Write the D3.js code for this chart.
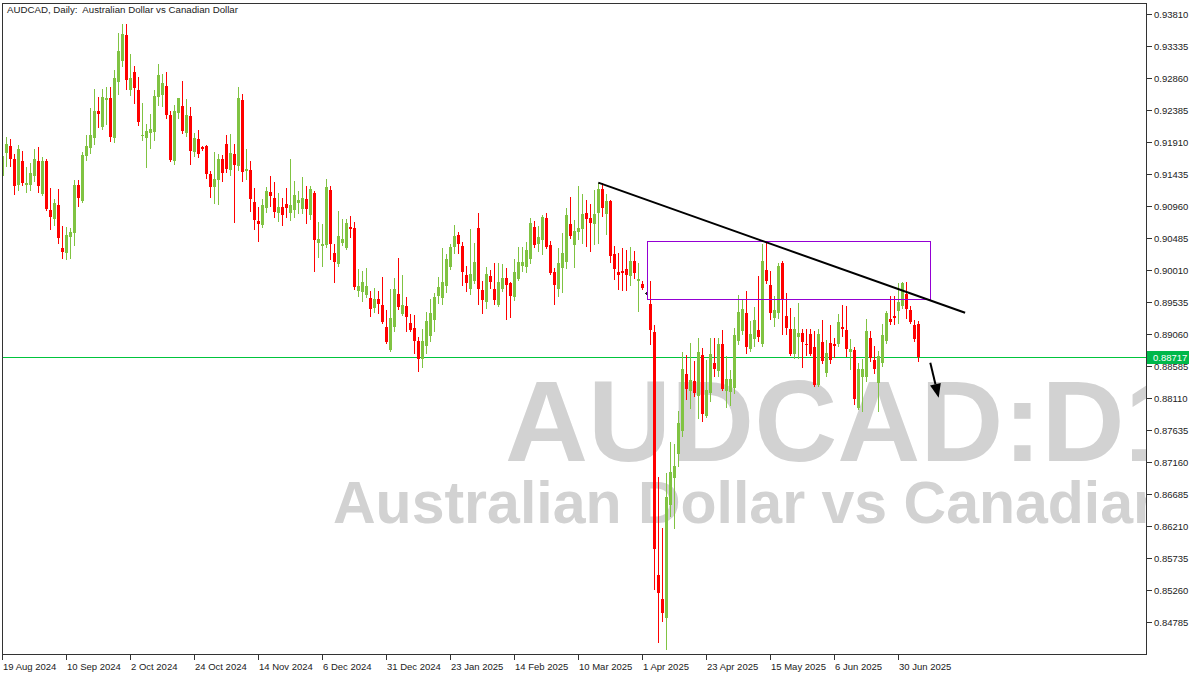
<!DOCTYPE html>
<html><head><meta charset="utf-8">
<script src="https://cdn.jsdelivr.net/npm/d3@7"></script>
<style>body{margin:0;background:#fff}svg{display:block}</style>
</head><body><svg id="c" width="1200" height="675"></svg>
<script>
const opens=[0.91406,0.91747,0.91851,0.91658,0.91272,0.91628,0.91272,0.91272,0.91406,0.91628,
0.91138,0.91628,0.90900,0.90767,0.90975,0.90337,0.90262,0.90500,0.90559,0.91272,
0.91034,0.91703,0.91821,0.91969,0.92370,0.92133,0.92533,0.92563,0.91969,0.92801,
0.93112,0.93484,0.92682,0.92949,0.92682,0.91999,0.91969,0.92043,0.92058,0.92578,
0.92608,0.92742,0.92311,0.91628,0.92340,0.92445,0.92043,0.92296,0.91762,0.91954,
0.91836,0.91851,0.91435,0.91242,0.91346,0.91658,0.91880,0.91494,0.91732,0.91554,
0.92533,0.91480,0.91494,0.91019,0.90737,0.90678,0.90930,0.91168,0.91079,0.90856,
0.90945,0.90989,0.90856,0.90900,0.91004,0.90915,0.91064,0.90826,0.91153,0.90411,
0.90366,0.90382,0.91197,0.90262,0.90099,0.90411,0.90337,0.90648,0.90633,0.89698,
0.89683,0.89639,0.89594,0.89446,0.89579,0.89490,0.89164,0.88823,0.89164,0.89653,
0.89357,0.89475,0.89223,0.89149,0.88956,0.88689,0.88882,0.89030,0.89268,0.89624,
0.89594,0.89773,0.90055,0.90352,0.90530,0.90366,0.89936,0.89728,0.89847,0.90633,
0.89713,0.89535,0.89921,0.89728,0.89490,0.89728,0.89892,0.89817,0.89609,0.89877,
0.90070,0.90055,0.90173,0.90648,0.90396,0.90455,0.90782,0.90382,0.89980,0.89728,
0.90040,0.90129,0.90692,0.90382,0.90574,0.90618,0.90856,0.90782,0.90692,0.90856,
0.91212,0.90841,0.91034,0.90248,0.89980,0.89995,0.90025,0.89921,0.90144,0.89847,
0.89802,0.89668,0.89505,0.89090,0.85483,0.85127,0.84845,0.86522,0.86922,0.87279,
0.87620,0.88466,0.88214,0.88362,0.88140,0.88748,0.87843,0.88184,0.88629,0.88511,
0.88912,0.88214,0.88199,0.88258,0.88956,0.89105,0.89371,0.88837,0.88986,0.89119,
0.88912,0.90010,0.89788,0.89297,0.89371,0.90114,0.89327,0.89134,0.88763,0.89016,
0.89075,0.88912,0.89060,0.88867,0.88303,0.88941,0.88481,0.88926,0.88912,0.88912,
0.89164,0.89119,0.88793,0.88823,0.87962,0.88422,0.88422,0.88999,0.88674,0.88333,
0.88629,0.88956,0.89283,0.89327,0.89401,0.89475,0.89653,0.89416,0.89194,0.89208];
const highs=[0.91777,0.91984,0.91954,0.91732,0.91866,0.91777,0.91539,0.91598,0.91806,0.91836,
0.91688,0.91658,0.91227,0.91064,0.91212,0.90663,0.90648,0.90633,0.91346,0.91346,
0.91762,0.92014,0.92415,0.92697,0.92578,0.92697,0.92727,0.92727,0.92978,0.93528,
0.93661,0.93661,0.93216,0.93038,0.92875,0.92489,0.92177,0.92325,0.92682,0.93067,
0.92919,0.92949,0.92370,0.92460,0.92563,0.92816,0.92548,0.92430,0.92043,0.92088,
0.91851,0.91866,0.91480,0.91762,0.91732,0.91718,0.92014,0.92028,0.91880,0.92727,
0.92622,0.91806,0.91628,0.91227,0.90945,0.91064,0.91242,0.91406,0.91316,0.91153,
0.91079,0.91227,0.91658,0.91331,0.91183,0.91391,0.91257,0.91257,0.91183,0.90722,
0.90692,0.91361,0.91257,0.90396,0.90886,0.90767,0.90767,0.90812,0.90722,0.90025,
0.89995,0.90040,0.89698,0.89743,0.89698,0.89906,0.89416,0.89728,0.89892,0.90188,
0.89936,0.89609,0.89357,0.89342,0.89016,0.89134,0.89386,0.89579,0.89668,0.89906,
0.90337,0.90248,0.90396,0.90678,0.90574,0.90426,0.90070,0.90618,0.90411,0.90856,
0.89847,0.90055,0.90010,0.90114,0.90114,0.90099,0.90040,0.89832,0.90173,0.90352,
0.90352,0.90426,0.90782,0.90737,0.90663,0.90826,0.90856,0.90441,0.90040,0.90337,
0.90559,0.90930,0.91094,0.90752,0.91257,0.91138,0.91049,0.90989,0.91197,0.91301,
0.91301,0.91138,0.91049,0.90366,0.90262,0.90337,0.90307,0.90352,0.90292,0.90114,
0.89847,0.89683,0.89847,0.89194,0.86937,0.86181,0.86997,0.87457,0.87427,0.87917,
0.88793,0.88748,0.88926,0.88659,0.88999,0.88852,0.88674,0.88999,0.88999,0.88999,
0.89119,0.88733,0.88526,0.89149,0.89639,0.89579,0.89698,0.89253,0.89461,0.89921,
0.90396,0.90441,0.89995,0.89624,0.90114,0.90144,0.89668,0.89446,0.89312,0.89520,
0.89134,0.89134,0.89134,0.89105,0.89134,0.89268,0.88971,0.89194,0.88999,0.89357,
0.89490,0.89475,0.88986,0.88867,0.88629,0.88689,0.89283,0.89105,0.88882,0.88808,
0.89208,0.89401,0.89624,0.89624,0.89817,0.89832,0.89832,0.89475,0.89268,0.89253];
const lows=[0.91138,0.91554,0.91554,0.91138,0.91197,0.91272,0.91168,0.91197,0.91331,0.91168,
0.91124,0.90900,0.90618,0.90678,0.90411,0.90188,0.90173,0.90188,0.90382,0.90960,
0.91019,0.91643,0.91747,0.91880,0.92133,0.92103,0.92177,0.91925,0.91910,0.92622,
0.93038,0.92697,0.92608,0.92489,0.92163,0.91939,0.91539,0.91821,0.91939,0.92460,
0.92445,0.92266,0.91628,0.91583,0.92266,0.92043,0.91999,0.91583,0.91703,0.91688,
0.91791,0.91376,0.91094,0.91004,0.90989,0.91331,0.91465,0.91421,0.90722,0.91494,
0.91331,0.91361,0.90886,0.90618,0.90441,0.90648,0.90871,0.90960,0.90797,0.90737,
0.90678,0.90797,0.90752,0.90797,0.90856,0.90856,0.90707,0.90767,0.89995,0.90203,
0.90070,0.90352,0.90173,0.89832,0.90070,0.90382,0.90322,0.90500,0.89728,0.89624,
0.89550,0.89609,0.89327,0.89386,0.89371,0.89223,0.88926,0.88808,0.89105,0.89431,
0.89342,0.89105,0.89105,0.88778,0.88511,0.88570,0.88778,0.88956,0.89105,0.89520,
0.89505,0.89683,0.90025,0.90262,0.90262,0.89788,0.89698,0.89653,0.89817,0.89505,
0.89371,0.89446,0.89743,0.89505,0.89475,0.89698,0.89283,0.89312,0.89564,0.89862,
0.89995,0.89980,0.90114,0.90352,0.90292,0.90248,0.90337,0.89951,0.89505,0.89624,
0.89683,0.90040,0.90485,0.90055,0.90470,0.90411,0.90366,0.90292,0.90396,0.90411,
0.90812,0.90544,0.90129,0.89877,0.89728,0.89713,0.89713,0.89788,0.89892,0.89401,
0.89728,0.89653,0.88912,0.85275,0.84488,0.84800,0.84384,0.86359,0.86181,0.87101,
0.87546,0.88095,0.87962,0.88140,0.87813,0.87769,0.87828,0.88066,0.88436,0.88436,
0.88229,0.87977,0.88006,0.88184,0.88912,0.89060,0.88778,0.88808,0.88882,0.88956,
0.88882,0.89817,0.89283,0.89179,0.89297,0.89060,0.89060,0.88748,0.88704,0.88704,
0.88570,0.88748,0.88748,0.88288,0.88288,0.88629,0.88436,0.88629,0.88719,0.88882,
0.89030,0.88733,0.88540,0.88021,0.87947,0.87917,0.88362,0.88659,0.88481,0.87917,
0.88585,0.88926,0.89208,0.89208,0.89223,0.89446,0.89297,0.89223,0.88956,0.88659];
const closes=[0.91703,0.91880,0.91658,0.91257,0.91806,0.91301,0.91301,0.91450,0.91658,0.91257,
0.91628,0.90915,0.90797,0.91004,0.90485,0.90277,0.90530,0.90574,0.91272,0.91079,
0.91718,0.91851,0.92014,0.92370,0.92325,0.92578,0.92563,0.91984,0.92860,0.93261,
0.93513,0.92830,0.92860,0.92712,0.92207,0.92014,0.92073,0.92103,0.92593,0.92905,
0.92786,0.92311,0.91643,0.92370,0.92563,0.92073,0.92311,0.91777,0.91969,0.91732,
0.91806,0.91435,0.91242,0.91361,0.91658,0.91450,0.91509,0.91747,0.91569,0.92563,
0.91465,0.91509,0.91064,0.90752,0.90692,0.90975,0.91183,0.91108,0.90871,0.90945,
0.90826,0.90930,0.90975,0.91124,0.91049,0.91079,0.90915,0.91212,0.90455,0.90470,
0.90396,0.91242,0.90396,0.90129,0.90515,0.90470,0.90707,0.90618,0.89758,0.89773,
0.89832,0.89773,0.89431,0.89579,0.89505,0.89238,0.88941,0.89297,0.89728,0.89461,
0.89490,0.89312,0.89119,0.88956,0.88689,0.88956,0.89253,0.89371,0.89609,0.89758,
0.89832,0.90173,0.90352,0.90515,0.90396,0.89980,0.89817,0.89951,0.90129,0.89728,
0.89564,0.89951,0.89832,0.89564,0.89832,0.89892,0.89788,0.89624,0.89980,0.90129,
0.90129,0.90307,0.90707,0.90382,0.90500,0.90797,0.90352,0.89965,0.89788,0.90114,
0.90262,0.90826,0.90515,0.90589,0.90633,0.90841,0.90767,0.90707,0.90841,0.91212,
0.90930,0.91034,0.90218,0.90025,0.89936,0.89965,0.89936,0.90144,0.89965,0.89877,
0.89743,0.89668,0.89119,0.85869,0.85216,0.84919,0.86640,0.87012,0.87101,0.87739,
0.88540,0.88244,0.88377,0.88184,0.88793,0.87873,0.88229,0.88763,0.88540,0.88912,
0.88244,0.88392,0.88392,0.89045,0.89386,0.89431,0.88867,0.89060,0.89268,0.89016,
0.90144,0.89847,0.89371,0.89416,0.90070,0.89579,0.89149,0.88763,0.89134,0.89075,
0.88941,0.88897,0.88763,0.88303,0.89060,0.88659,0.88778,0.88674,0.88882,0.89238,
0.89134,0.88837,0.88837,0.88095,0.88540,0.88540,0.89105,0.88704,0.88540,0.88733,
0.89045,0.89371,0.89238,0.89297,0.89535,0.89817,0.89431,0.89238,0.88986,0.88717];
const dateLabels=["19 Aug 2024","10 Sep 2024","2 Oct 2024","24 Oct 2024","14 Nov 2024","6 Dec 2024","31 Dec 2024","23 Jan 2025","14 Feb 2025","10 Mar 2025","1 Apr 2025","23 Apr 2025","15 May 2025","6 Jun 2025","30 Jun 2025"];
const barsPerLabel=16;
const priceTicks=[0.93810,0.93335,0.92860,0.92385,0.91910,0.91435,0.90960,0.90485,0.90010,0.89535,0.89060,0.88585,0.88110,0.87635,0.87160,0.86685,0.86210,0.85735,0.85260,0.84785];
const lastPrice=0.88717;
const zoneBars=[161.2,232], zonePrices=[0.90441,0.89580];
const trendBars=[149,240.7], trendPrices=[0.91301,0.89371];
const arrowBars=[232,234.1], arrowPrices=[0.88630,0.88110];
const title="AUDCAD, Daily:  Australian Dollar vs Canadian Dollar";
const wmSymbol="AUDCAD:D1", wmName="Australian Dollar vs Canadian Dollar";

const svg=d3.select('#c');
const FONT='"Liberation Sans", Arial, sans-serif';
const x=d3.scaleLinear().domain([0,286]).range([2.3,1146.3]);
const y=d3.scaleLinear().domain([0.93810,0.84785]).range([13.5,622]);
const PL=2, PR=1146, PT=3, PB=654;

svg.append('rect').attr('width',1200).attr('height',675).attr('fill','#fff');
svg.append('defs').append('clipPath').attr('id','clip').append('rect')
  .attr('x',PL).attr('y',PT).attr('width',PR-PL).attr('height',PB-PT);
const g=svg.append('g').attr('clip-path','url(#clip)');

// watermark
g.append('text').attr('x',505).attr('y',461)
  .attr('font-family',FONT).attr('font-weight','bold').attr('font-size',115)
  .attr('fill','#d2d2d2').text(wmSymbol);
g.append('text').attr('x',333).attr('y',523)
  .attr('font-family',FONT).attr('font-weight','bold').attr('font-size',59)
  .attr('fill','#d2d2d2').text(wmName);

// price line
const lineGreen='#00c43c';
g.append('line').attr('x1',PL).attr('x2',PR)
  .attr('y1',Math.round(y(lastPrice))+0.5).attr('y2',Math.round(y(lastPrice))+0.5)
  .attr('stroke',lineGreen).attr('stroke-width',1).attr('shape-rendering','crispEdges');

// candles
const idx=d3.range(opens.length);
const up='#80c342', dn='#ff0000';
const col=i=>closes[i]>opens[i]?up:(closes[i]<opens[i]?dn:'#222');
const cg=g.append('g').attr('shape-rendering','crispEdges');
cg.selectAll('line.w').data(idx).join('line').attr('class','w')
  .attr('x1',i=>Math.round(x(i))+0.5).attr('x2',i=>Math.round(x(i))+0.5)
  .attr('y1',i=>Math.round(y(highs[i]))).attr('y2',i=>Math.round(y(lows[i]))+1)
  .attr('stroke',col).attr('stroke-width',1);
cg.selectAll('rect.b').data(idx).join('rect').attr('class','b')
  .attr('x',i=>Math.round(x(i))-1).attr('width',3)
  .attr('y',i=>Math.round(y(Math.max(opens[i],closes[i]))))
  .attr('height',i=>Math.max(1,Math.round(y(Math.min(opens[i],closes[i])))-Math.round(y(Math.max(opens[i],closes[i])))))
  .attr('fill',col);

// zone rectangle
{
  const zx0=Math.round(x(zoneBars[0]))+0.5, zx1=Math.round(x(zoneBars[1]))+0.5;
  const zy0=Math.round(y(zonePrices[0]))+0.5, zy1=Math.round(y(zonePrices[1]))+0.5;
  g.append('rect').attr('x',zx0).attr('y',zy0).attr('width',zx1-zx0).attr('height',zy1-zy0)
    .attr('fill','none').attr('stroke','#9400d3').attr('stroke-width',1).attr('shape-rendering','crispEdges');
}

// trendline
g.append('line').attr('x1',x(trendBars[0])).attr('y1',y(trendPrices[0]))
  .attr('x2',x(trendBars[1])).attr('y2',y(trendPrices[1]))
  .attr('stroke','#000').attr('stroke-width',2);

// arrow
{
  const x0=x(arrowBars[0]),y0=y(arrowPrices[0]),x1=x(arrowBars[1]),y1=y(arrowPrices[1]);
  const dx=x1-x0,dy=y1-y0,len=Math.hypot(dx,dy),ux=dx/len,uy=dy/len;
  const hl=14,hw=5.5;
  const bx=x1-ux*hl,by=y1-uy*hl;
  g.append('line').attr('x1',x0).attr('y1',y0).attr('x2',bx).attr('y2',by)
    .attr('stroke','#000').attr('stroke-width',2);
  g.append('path').attr('d',`M${x1},${y1}L${bx-uy*hw},${by+ux*hw}L${bx+uy*hw},${by-ux*hw}Z`).attr('fill','#000');
}

// frame
svg.append('rect').attr('x',PL+0.5).attr('y',PT+0.5).attr('width',PR-PL).attr('height',PB-PT)
  .attr('fill','none').attr('stroke','#333').attr('stroke-width',1).attr('shape-rendering','crispEdges');

// right axis
const AX_FS=9.5;
svg.append('g').attr('shape-rendering','crispEdges').selectAll('line').data(priceTicks).join('line')
  .attr('x1',PR).attr('x2',PR+6).attr('y1',d=>Math.round(y(d))+0.5).attr('y2',d=>Math.round(y(d))+0.5)
  .attr('stroke','#333');
svg.append('g').selectAll('text').data(priceTicks).join('text')
  .attr('x',PR+8).attr('y',d=>Math.round(y(d))+3.5).attr('font-family',FONT).attr('font-size',AX_FS)
  .attr('fill','#222').text(d=>d.toFixed(5));

// bottom axis
const tickIdx=dateLabels.map((d,k)=>k*barsPerLabel);
svg.append('g').attr('shape-rendering','crispEdges').selectAll('line').data(tickIdx).join('line')
  .attr('x1',i=>Math.round(x(i))+0.5).attr('x2',i=>Math.round(x(i))+0.5).attr('y1',PB).attr('y2',PB+6)
  .attr('stroke','#333');
svg.append('g').selectAll('text').data(dateLabels).join('text')
  .attr('x',(d,k)=>Math.round(x(tickIdx[k]))+1).attr('y',670).attr('font-family',FONT).attr('font-size',AX_FS)
  .attr('fill','#222').text(d=>d);

// last price label
{
  const yy=Math.round(y(lastPrice));
  svg.append('rect').attr('x',PR+1).attr('y',yy-6).attr('width',42).attr('height',13).attr('fill','#00b84a');
  svg.append('text').attr('x',PR+7).attr('y',yy+4).attr('font-family',FONT).attr('font-size',AX_FS)
    .attr('fill','#fff').text(lastPrice.toFixed(5));
}

// title
svg.append('text').attr('x',7).attr('y',13).attr('font-family',FONT).attr('font-size',9.7)
  .attr('fill','#222').style('white-space','pre').text(title);
</script></body></html>
